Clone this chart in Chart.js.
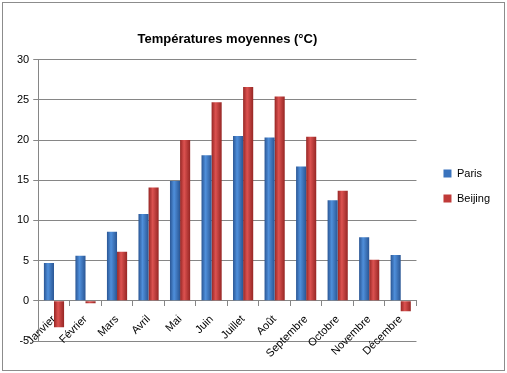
<!DOCTYPE html>
<html>
<head>
<meta charset="utf-8">
<script src="https://cdn.jsdelivr.net/npm/chart.js@4.4.1/dist/chart.umd.min.js"></script>
<style>
  body { margin: 0; background: #fff; }
  #frame {
    position: absolute;
    left: 2px;
    top: 2px;
    width: 501px;
    height: 367px;
    border: 1px solid #8c8c8c;
  }
</style>
</head>
<body>
<div id="frame"><canvas id="tempChart" width="501" height="367"></canvas></div>
<script>
const months = ["Janvier", "Février", "Mars", "Avril", "Mai", "Juin", "Juillet", "Août", "Septembre", "Octobre", "Novembre", "Décembre"];
const paris = [4.7, 5.6, 8.6, 10.8, 14.9, 18.1, 20.5, 20.3, 16.7, 12.5, 7.9, 5.7];
const beijing = [-3.3, -0.3, 6.1, 14.1, 20.0, 24.7, 26.6, 25.4, 20.4, 13.7, 5.1, -1.3];
const yMin = -5;
const yMax = 30;
const yStep = 5;

const gridColor = "#868686";
const fontFamily = "'Liberation Sans', Arial, sans-serif";

// shade each bar with a left-to-right gradient like the Excel 3D look
const barShading = {
  id: "barShading",
  beforeDatasetsDraw: (chart) => {
    const { ctx } = chart;
    chart.data.datasets.forEach((ds, i) => {
      const meta = chart.getDatasetMeta(i);
      meta.data.forEach((bar) => {
        const x0 = bar.x - bar.width / 2;
        const x1 = bar.x + bar.width / 2;
        const g = ctx.createLinearGradient(x0, 0, x1, 0);
        g.addColorStop(0, ds.edgeColor);
        g.addColorStop(0.4, ds.lightColor);
        g.addColorStop(1, ds.edgeColor);
        bar.options = Object.assign({}, bar.options, { backgroundColor: g });
      });
    });
  },
};

const ctx = document.getElementById("tempChart").getContext("2d");
new Chart(ctx, {
  type: "bar",
  data: {
    labels: months,
    datasets: [
      {
        label: "Paris",
        data: paris,
        backgroundColor: "#3a73bd",
        edgeColor: "#2a5694",
        lightColor: "#4f8fdb",
        borderWidth: 0,
        categoryPercentage: 0.64,
        barPercentage: 1,
      },
      {
        label: "Beijing",
        data: beijing,
        backgroundColor: "#c03a38",
        edgeColor: "#962624",
        lightColor: "#dc5250",
        borderWidth: 0,
        categoryPercentage: 0.64,
        barPercentage: 1,
      },
    ],
  },
  options: {
    responsive: false,
    animation: false,
    layout: {
      padding: { top: 8, right: 4, bottom: 29, left: 10 },
    },
    scales: {
      x: {
        position: { y: 0 },
        grid: {
          offset: true,
          drawOnChartArea: false,
          drawTicks: true,
          tickLength: 5,
          color: gridColor,
        },
        border: { display: true, color: gridColor },
        ticks: {
          minRotation: 45,
          maxRotation: 45,
          color: "#000",
          padding: 7,
          font: { family: fontFamily, size: 11 },
        },
      },
      y: {
        min: yMin,
        max: yMax,
        grid: {
          color: gridColor,
          drawTicks: true,
          tickLength: 5,
        },
        border: { display: true, color: gridColor },
        ticks: {
          stepSize: yStep,
          color: "#000",
          padding: 4,
          font: { family: fontFamily, size: 11 },
        },
      },
      // empty gap between the plot and the legend
      gap: {
        axis: "y",
        position: "right",
        display: true,
        grid: { display: false },
        border: { display: false },
        ticks: { display: false },
        afterFit: (scale) => {
          scale.width = 13;
        },
      },
    },
    plugins: {
      title: {
        display: true,
        fullSize: false,
        text: "Températures moyennes (°C)",
        color: "#000",
        font: { family: fontFamily, size: 13, weight: "bold" },
        padding: { top: 21, bottom: 12 },
      },
      legend: {
        position: "right",
        title: {
          display: true,
          text: " ",
          font: { size: 10 },
          padding: 4,
        },
        labels: {
          boxWidth: 8,
          boxHeight: 8,
          padding: 14,
          color: "#000",
          font: { family: fontFamily, size: 11 },
        },
      },
      tooltip: { enabled: false },
    },
  },
  plugins: [barShading],
});
</script>
</body>
</html>
